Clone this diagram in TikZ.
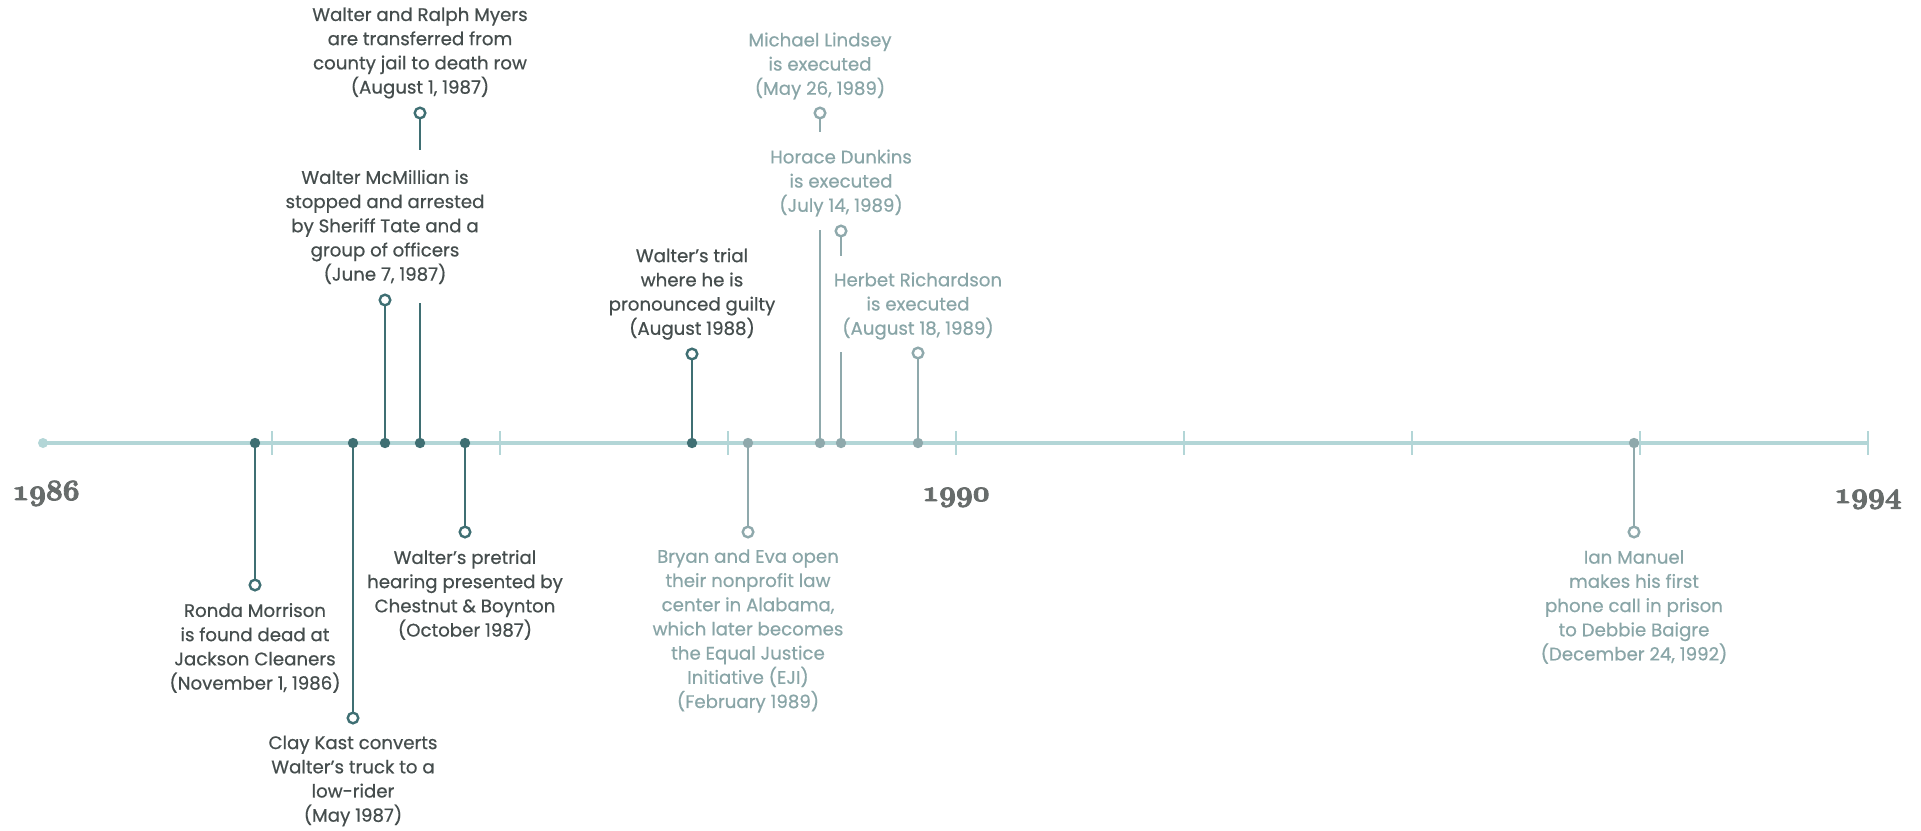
\documentclass[tikz,border=0pt]{standalone}
\usepackage{fontspec}
\setmainfont{Poppins}[UprightFeatures={FakeBold=0.6}]
\font\yearfnt=cmmib10 at 14.6pt
\newcommand{\heavytext}[1]{\special{pdf:literal direct 2 Tr 0.45 w}#1\special{pdf:literal direct 0 Tr}}
\definecolor{axiscol}{HTML}{B3D6D7}
\definecolor{darkc}{HTML}{3F6F73}
\definecolor{lightc}{HTML}{8FA9AC}
\definecolor{darktext}{HTML}{454D4D}
\definecolor{lighttext}{HTML}{89A5A7}
\definecolor{yearcol}{HTML}{676C6B}
\begin{document}
\begin{tikzpicture}[x=0.5pt,y=-0.5pt,
  axisline/.style={draw=axiscol,line width=1.6pt},
  tickmark/.style={draw=axiscol,line width=1.2pt},
  startdot/.style={circle,fill=axiscol,inner sep=0pt,minimum size=5pt},
  ddot/.style={circle,fill=darkc,inner sep=0pt,minimum size=5.2pt},
  ldot/.style={circle,fill=lightc,inner sep=0pt,minimum size=5.2pt},
  dring/.style={circle,draw=darkc,fill=white,line width=1.2pt,inner sep=0pt,minimum size=5.3pt},
  lring/.style={circle,draw=lightc,fill=white,line width=1.2pt,inner sep=0pt,minimum size=5.3pt},
  dstem/.style={draw=darkc,line width=1.4pt},
  lstem/.style={draw=lightc,line width=1.4pt},
  lbl/.style={align=center,inner sep=0pt,font=\fontsize{9.1}{12.1}\selectfont},
  dlbl/.style={lbl,text=darktext},
  llbl/.style={lbl,text=lighttext},
  yearlbl/.style={anchor=base,inner sep=0pt,text=yearcol,font=\yearfnt}
]
\useasboundingbox (0,0) rectangle (1921,830);
% axis
\coordinate (ax0) at (43,443);
\coordinate (ax1) at (1868,443);
\draw[axisline] (ax0) -- (ax1);
\foreach \tx in {272,500,728,956,1184,1412,1640,1868}{
  \draw[tickmark] (\tx,431) -- (\tx,455);
}
\node[startdot] (start) at (43,443) {};
% year labels
\node[yearlbl] (y1986) at (46,500) {\heavytext{1986}};
\node[yearlbl] (y1990) at (956,501) {\heavytext{1990}};
\node[yearlbl] (y1994) at (1868,503) {\heavytext{1994}};

% ---- stems ----
% Ronda
\coordinate (p1) at (255,443);
\coordinate (q1) at (255,585);
\draw[dstem] (p1) -- (q1);
% Clay
\coordinate (p2) at (353,443);
\coordinate (q2) at (353,718);
\draw[dstem] (p2) -- (q2);
% McMillian
\coordinate (p3) at (385,443);
\coordinate (q3) at (385,300);
\draw[dstem] (p3) -- (q3);
% Transfer (broken)
\coordinate (p4) at (420,443);
\coordinate (q4) at (420,113);
\coordinate (g4a) at (420,303);
\coordinate (g4b) at (420,150);
\draw[dstem] (p4) -- (g4a);
\draw[dstem] (q4) -- (g4b);
% Pretrial
\coordinate (p5) at (465,443);
\coordinate (q5) at (465,532);
\draw[dstem] (p5) -- (q5);
% Trial
\coordinate (p6) at (692,443);
\coordinate (q6) at (692,354);
\draw[dstem] (p6) -- (q6);
% Bryan
\coordinate (p7) at (748,443);
\coordinate (q7) at (748,532);
\draw[lstem] (p7) -- (q7);
% Michael (broken)
\coordinate (p8) at (820,443);
\coordinate (q8) at (820,113);
\coordinate (g8a) at (820,230);
\coordinate (g8b) at (820,132);
\draw[lstem] (p8) -- (g8a);
\draw[lstem] (q8) -- (g8b);
% Horace (broken)
\coordinate (p9) at (841,443);
\coordinate (q9) at (841,231);
\coordinate (g9a) at (841,352);
\coordinate (g9b) at (841,256);
\draw[lstem] (p9) -- (g9a);
\draw[lstem] (q9) -- (g9b);
% Herbet
\coordinate (p10) at (918,443);
\coordinate (q10) at (918,353);
\draw[lstem] (p10) -- (q10);
% Ian
\coordinate (p11) at (1634,443);
\coordinate (q11) at (1634,532);
\draw[lstem] (p11) -- (q11);

% ---- dots and rings ----
\foreach \i in {1,...,6}{
  \node[ddot] (d\i) at (p\i) {};
  \node[dring] (r\i) at (q\i) {};
}
\foreach \i in {7,...,11}{
  \node[ldot] (d\i) at (p\i) {};
  \node[lring] (r\i) at (q\i) {};
}

% ---- labels ----
\node[dlbl] (t1) at (255,648) {Ronda Morrison\\is found dead at\\Jackson Cleaners\\(November 1, 1986)};
\node[dlbl] (t2) at (353,781) {Clay Kast converts\\Walter’s truck to a\\low-rider\\(May 1987)};
\node[dlbl] (t3) at (385,227) {Walter McMillian is\\stopped and arrested\\by Sheriff Tate and a\\group of officers\\(June 7, 1987)};
\node[dlbl] (t4) at (420,53) {Walter and Ralph Myers\\are transferred from\\county jail to death row\\(August 1, 1987)};
\node[dlbl] (t5) at (465,595) {Walter’s pretrial\\hearing presented by\\Chestnut \& Boynton\\(October 1987)};
\node[dlbl] (t6) at (692,294) {Walter’s trial\\where he is\\pronounced guilty\\(August 1988)};
\node[llbl] (t7) at (748,631) {Bryan and Eva open\\their nonprofit law\\center in Alabama,\\which later becomes\\the Equal Justice\\Initiative (EJI)\\(February 1989)};
\node[llbl] (t8) at (820,66) {Michael Lindsey\\is executed\\(May 26, 1989)};
\node[llbl] (t9) at (841,183) {Horace Dunkins\\is executed\\(July 14, 1989)};
\node[llbl] (t10) at (918,306) {Herbet Richardson\\is executed\\(August 18, 1989)};
\node[llbl] (t11) at (1634,607) {Ian Manuel\\makes his first\\phone call in prison\\to Debbie Baigre\\(December 24, 1992)};
\end{tikzpicture}
\end{document}
